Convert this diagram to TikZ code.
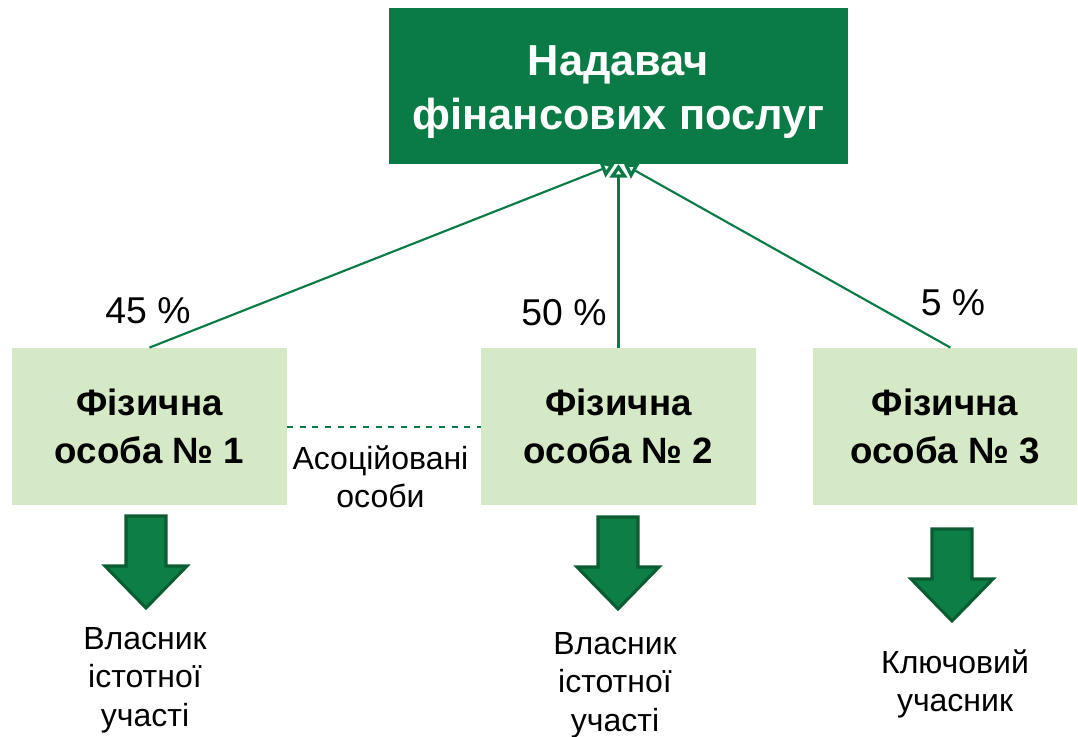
\documentclass[tikz,border=0pt]{standalone}
\usepackage{fontspec}
\setmainfont{Liberation Sans}
\usetikzlibrary{arrows.meta}
\usetikzlibrary{positioning}

\definecolor{darkgreen}{RGB}{10,123,70}
\definecolor{palegreen}{RGB}{214,233,198}
\definecolor{arrowgreen}{RGB}{12,126,70}
\definecolor{arrowedge}{RGB}{11,92,50}

\tikzset{
  provider/.style = {fill = darkgreen, minimum width = 344pt, minimum height = 117pt, inner sep = 0pt},
  providertext/.style = {text = white, font = \fontsize{32.5}{40}\selectfont\bfseries, align = center, inner sep = 0pt},
  person/.style = {fill = palegreen, font = \fontsize{27.5}{36}\selectfont\bfseries,
    align = center, minimum width = 206pt, minimum height = 118pt, inner sep = 0pt},
  share/.style = {font = \fontsize{28}{30}\selectfont, inner sep = 0pt},
  caption/.style = {font = \fontsize{24}{29}\selectfont, align = center, inner sep = 0pt},
  link/.style = {draw = darkgreen, line width = 1.6pt, -{Triangle[open, length = 10pt, width = 13pt, line width = 2.6pt]}},
  blockarrow/.style = {fill = arrowgreen, draw = arrowedge, line width = 2.3pt, line join = miter}
}

\begin{document}
\begin{tikzpicture}[x = 0.75pt, y = -0.75pt]
\useasboundingbox (0, 0) rectangle (1078, 736);

\node[provider] (prov) at (618.5, 86) {};
\node[providertext, yshift = -4.5pt] (provtext) at (prov) {Надавач\\фінансових послуг};

\node[person] (p1) at (149.5, 426.5) {Фізична\\особа № 1};
\node[person] (p2) at (618.5, 426.5) {Фізична\\особа № 2};
\node[person, minimum width = 198pt] (p3) at (945, 426.5) {Фізична\\особа № 3};

\draw[link] (p1.north) -- ([xshift = -3pt]prov.south);
\draw[link] (p2.north) -- (prov.south);
\draw[link] ([xshift = 4pt]p3.north) -- ([xshift = 4pt]prov.south);

\node[share] (s1) at (148, 311) {45 \%};
\node[share] (s2) at (564, 313) {50 \%};
\node[share] (s3) at (953, 303) {5 \%};

\draw[darkgreen, line width = 1.5pt, dash pattern = on 4.5pt off 5pt] (p1.east) -- (p2.west);
\node[caption, below = 14pt of p1.east, xshift = 70pt] (assoc) {Асоційовані\\особи};

% block arrows under the persons
\foreach \ax/\ay in {146/516, 618/517, 952/529}
  \draw[blockarrow] ({\ax-20}, \ay) -- ({\ax+20}, \ay) -- ({\ax+20}, {\ay+50})
    -- ({\ax+41}, {\ay+50}) -- (\ax, {\ay+92}) -- ({\ax-41}, {\ay+50})
    -- ({\ax-20}, {\ay+50}) -- cycle;

\node[caption] (c1) at (145, 680) {Власник\\істотної\\участі};
\node[caption] (c2) at (615, 685) {Власник\\істотної\\участі};
\node[caption] (c3) at (955, 684) {Ключовий\\учасник};

\end{tikzpicture}
\end{document}
